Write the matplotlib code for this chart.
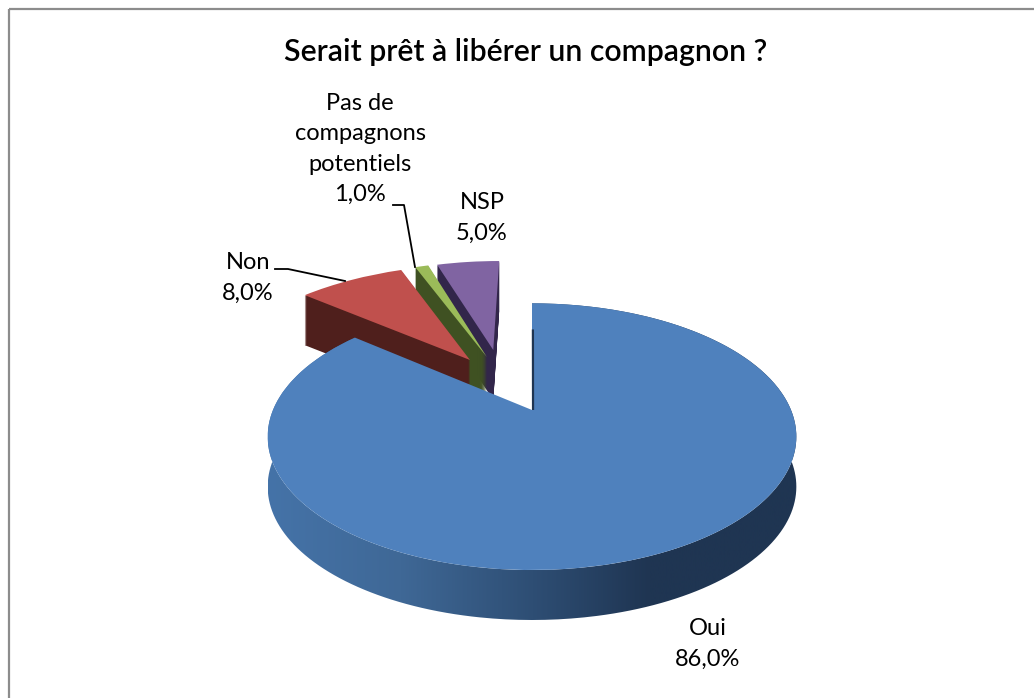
import numpy as np
import matplotlib
matplotlib.use("Agg")
import matplotlib.pyplot as plt
from matplotlib.transforms import Transform, Affine2D
from matplotlib.path import Path
from matplotlib.patches import PathPatch, Rectangle
from matplotlib.colors import LinearSegmentedColormap

categories = ["Oui", "Non", "Pas de\ncompagnons\npotentiels", "NSP"]
values = [86.0, 8.0, 1.0, 5.0]
title = "Serait prêt à libérer un compagnon ?"

top_colors = ["#4F81BD", "#C0504D", "#9BBB59", "#8064A2"]
wall_colors = ["#1F3552", "#4F1F1C", "#3F5122", "#32264A"]
offsets = [(0.0, 0.0), (-0.26, 0.424), (-0.19, 0.451), (-0.165, 0.517)]
radii = [1.0, 1.05, 1.06, 1.0]

CX, CY, RX, RY, K = 532.0, 410.0, 259.0, 128.0, 0.2
DEPTH = 50


class Perspective(Transform):
    input_dims = output_dims = 2
    is_affine = False
    has_inverse = False

    def transform_non_affine(self, v):
        v = np.asarray(v, float)
        w = 1 + K * v[:, 1]
        return np.column_stack([CX + RX * v[:, 0] / w, CY - RY * v[:, 1] / w])


persp = Perspective()

fig = plt.figure(figsize=(10.34, 6.98), dpi=100)
ax = fig.add_axes([0, 0, 1, 1])


def pie_layer(colors, dy=0.0, zorders=None):
    wedges, _ = ax.pie(values, startangle=90, counterclock=False, colors=colors,
                       wedgeprops=dict(linewidth=0))
    for i, w in enumerate(wedges):
        w.set_center(offsets[i])
        w.set_radius(radii[i])
        w.set_transform(persp + Affine2D().translate(0, dy) + ax.transData)
        w.set_zorder(zorders[i] if zorders else 1)
    return wedges


# back-to-front: NSP, Pas de compagnons, Non, Oui
order_z = [40, 30, 20, 10]
for d in range(DEPTH, 0, -1):
    z = [order_z[i] + (DEPTH - d) * 0.01 for i in range(4)]
    pie_layer(["none" if i == 0 else wall_colors[i] for i in range(4)], dy=d, zorders=z)
pie_layer(["none" if i == 0 else top_colors[i] for i in range(4)],
          zorders=[o + 0.9 for o in order_z])

# Oui wall with a horizontal shading, clipped to the rim of its slice
frac = values[0] / sum(values)
th = np.linspace(0, 2 * np.pi * frac, 400)
rim = persp.transform(np.column_stack([np.sin(th), np.cos(th)]))
wall = np.vstack([rim, (rim + [0, DEPTH])[::-1]])
cmap = LinearSegmentedColormap.from_list(
    "wall", [(0, "#4573A8"), (0.25, "#3F6896"), (0.5, "#2E4E74"), (0.72, "#1F3552"), (1, "#1F3552")])
grad = np.linspace(0, 1, 256)[None, :]
patch = PathPatch(Path(wall), fc="none", ec="none", transform=ax.transData)
ax.add_patch(patch)
im = ax.imshow(grad, cmap=cmap, extent=(268, 798, 700, 250), aspect="auto", zorder=50)
im.set_clip_path(patch)

# Oui top surface above everything
wedges, _ = ax.pie(values, startangle=90, counterclock=False,
                   colors=[top_colors[0], "none", "none", "none"],
                   wedgeprops=dict(linewidth=0))
for w in wedges:
    w.set_transform(persp + ax.transData)
    w.set_zorder(60)

# dark sliver along the cut edge of the Oui slice
ax.plot([0.004, 0.004], [0.0, 0.72], color="#1F3552", lw=1.6, zorder=61,
        transform=persp + ax.transData, solid_capstyle="butt")

ax.set_aspect("auto")
ax.set_xlim(0, 1034)
ax.set_ylim(698, 0)
ax.set_axis_off()

# chart frame
ax.add_patch(Rectangle((8.5, 8.5), 1200, 1200, fc="none", ec="#8C8C8C", lw=1.6, zorder=70))

FONT = "Lato"
TS = 21.8
LS = 17.0
ax.text(525.5, 52, title, ha="center", va="center", fontsize=TS, family=FONT,
        weight="semibold", color="black", zorder=80)


def pct(v):
    return f"{v:.1f}%".replace(".", ",")


label_pos = [(708, 644), (248, 278), (360, 149), (482, 218)]
for name, v, (x, y) in zip(categories, values, label_pos):
    ax.text(x, y, f"{name}\n{pct(v)}", ha="center", va="center", fontsize=LS, family=FONT,
            linespacing=1.56, color="black", zorder=80)

ax.plot([275, 288, 345], [269, 269, 281], color="black", lw=1.3, zorder=80)
ax.plot([393, 404, 415], [205, 205, 267], color="black", lw=1.3, zorder=80)

fig.savefig("out.png", dpi=100, facecolor="white")
